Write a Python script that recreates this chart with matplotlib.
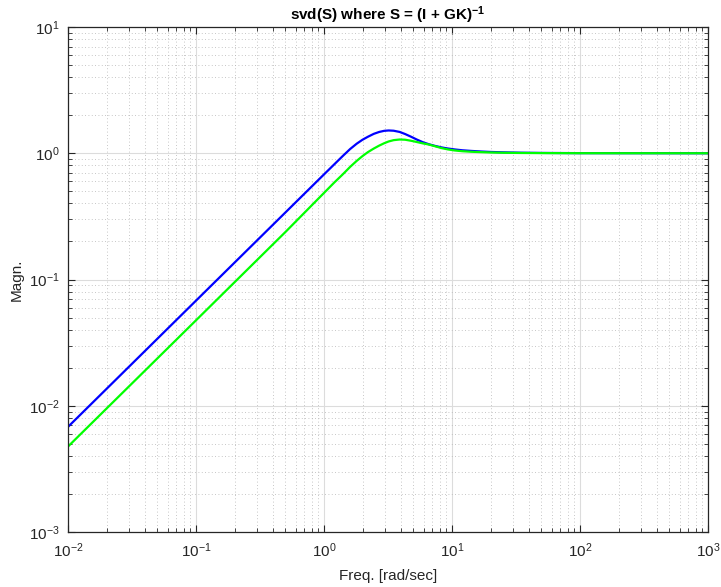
import matplotlib
matplotlib.use("Agg")
import matplotlib.pyplot as plt
from matplotlib.ticker import LogLocator

plt.rcParams['font.family'] = ['Liberation Sans', 'DejaVu Sans']
plt.rcParams['mathtext.fontset'] = 'custom'
plt.rcParams['mathtext.rm'] = 'Liberation Sans'
plt.rcParams['mathtext.it'] = 'Liberation Sans'
plt.rcParams['mathtext.bf'] = 'Liberation Sans:bold'

# singular values (rad/sec, magnitude)
freq = [0.01, 0.1, 0.5, 1.0, 1.2, 1.4, 1.6, 1.8, 2.0, 2.2, 2.45, 2.7, 2.95,
        3.2, 3.5, 3.9, 4.3, 4.8, 5.3, 5.9, 6.6, 7.4, 8.3, 9.3, 10.5, 12, 14,
        17, 20, 25, 35, 50, 100, 1000]
sv_max = [0.0068, 0.068, 0.34, 0.68, 0.815, 0.95, 1.08, 1.19, 1.28, 1.35,
          1.425, 1.475, 1.505, 1.515, 1.508, 1.475, 1.42, 1.35, 1.285, 1.225,
          1.178, 1.142, 1.112, 1.09, 1.072, 1.056, 1.044, 1.032, 1.024,
          1.017, 1.01, 1.006, 1.002, 1.0]
sv_min = [0.00475, 0.0475, 0.238, 0.485, 0.585, 0.68, 0.78, 0.87, 0.95,
          1.02, 1.09, 1.15, 1.20, 1.24, 1.27, 1.285, 1.28, 1.255, 1.228,
          1.198, 1.172, 1.135, 1.098, 1.072, 1.052, 1.038, 1.028, 1.02,
          1.014, 1.009, 1.005, 1.003, 1.001, 1.0]

fig = plt.figure(figsize=(7.21, 5.87), dpi=100)
ax = fig.add_axes([0.0943, 0.0937, 0.8877, 0.8603])

ax.loglog(freq, sv_max, color=(0, 0, 1), lw=1.6)
ax.loglog(freq, sv_min, color=(0, 1, 0), lw=1.6)

ax.set_xlim(1e-2, 1e3)
ax.set_ylim(1e-3, 1e1)
ax.xaxis.set_major_locator(LogLocator(base=10, numticks=20))
ax.yaxis.set_major_locator(LogLocator(base=10, numticks=20))
ax.xaxis.set_minor_locator(LogLocator(base=10, subs=range(2, 10), numticks=20))
ax.yaxis.set_minor_locator(LogLocator(base=10, subs=range(2, 10), numticks=20))

ax.grid(True, which='major', color='#dcdcdc', lw=0.8, ls='-')
ax.grid(True, which='minor', color='#b4b4b4', lw=0.6, ls=(0, (1, 3)))
ax.set_axisbelow(True)

ax.tick_params(which='both', direction='in', top=True, right=True,
               labelsize=11, colors='#262626')
ax.tick_params(which='major', length=5, width=0.8)
ax.tick_params(which='minor', length=3, width=0.6)
ax.tick_params(axis='x', which='major', pad=7)
ax.tick_params(axis='y', which='major', pad=6)
for s in ax.spines.values():
    s.set_linewidth(0.9)
    s.set_color('#262626')

ax.set_title(r'svd(S) where S = (I + GK)$^{\mathbf{-1}}$', fontsize=11,
             fontweight='bold', pad=5)
ax.set_xlabel('Freq. [rad/sec]', fontsize=11, color='#262626', labelpad=6)
ax.set_ylabel('Magn.', fontsize=11, color='#262626', labelpad=4)

fig.savefig('out.png', dpi=100)
